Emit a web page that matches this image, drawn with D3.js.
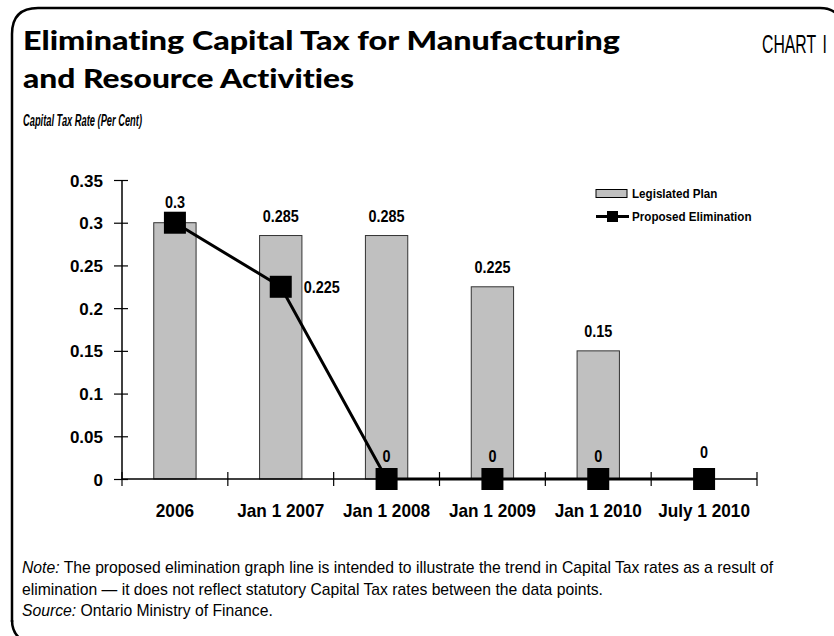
<!DOCTYPE html>
<html>
<head>
<meta charset="utf-8">
<script src="https://cdn.jsdelivr.net/npm/d3@7"></script>
<style>
  html, body { margin: 0; padding: 0; background: #fff; }
  svg { display: block; }
  text { font-variant-ligatures: none; }
</style>
</head>
<body>
<svg id="chart" width="834" height="636"></svg>
<script>
// ---- data ----
const categories = ["2006", "Jan 1 2007", "Jan 1 2008", "Jan 1 2009", "Jan 1 2010", "July 1 2010"];
const legislatedPlan = [0.3, 0.285, 0.285, 0.225, 0.15, 0];
const proposedElimination = [0.3, 0.225, 0, 0, 0, 0];
const yTicks = [0, 0.05, 0.1, 0.15, 0.2, 0.25, 0.3, 0.35];
const yTickLabels = ["0", "0.05", "0.1", "0.15", "0.2", "0.25", "0.3", "0.35"];
const seriesNames = ["Legislated Plan", "Proposed Elimination"];
const titleLines = ["Eliminating Capital Tax for Manufacturing", "and Resource Activities"];
const chartTag = "CHART I";
const subtitle = "Capital Tax Rate (Per Cent)";

const svg = d3.select("#chart");
const sans = "'Liberation Sans', Arial, sans-serif";

// squeeze text horizontally to mimic the narrow face of the original
function condense(sel, factor) {
  sel.each(function () {
    const w = this.getComputedTextLength();
    d3.select(this).attr("textLength", w * factor).attr("lengthAdjust", "spacingAndGlyphs");
  });
}
function fitWidth(sel, width) {
  sel.attr("textLength", width).attr("lengthAdjust", "spacingAndGlyphs");
}

// frame (left + top border with rounded corners)
svg.append("path")
  .attr("d", "M12,622 L12,34 Q12,8 38,8 L820,8 Q834,8 840,18")
  .attr("fill", "none").attr("stroke", "#000").attr("stroke-width", 2.5);
svg.append("path")
  .attr("d", "M12,620 Q12,636 26,642")
  .attr("fill", "none").attr("stroke", "#000").attr("stroke-width", 2.5);

// title
titleLines.forEach((t, i) => {
  const el = svg.append("text")
    .attr("x", 23).attr("y", 50 + i * 37.5)
    .attr("font-family", "Lato, 'Open Sans', sans-serif")
    .attr("font-weight", 900).attr("font-size", 27).attr("fill", "#000")
    .text(t);
  fitWidth(el, i === 0 ? 597 : 331);
});

// "CHART I" tag in a condensed look (scaled group so its box stays inside)
const tagG = svg.append("g");
const tag = tagG.append("text").attr("x", 0).attr("y", 0).attr("text-anchor", "end")
  .attr("font-family", sans).attr("font-size", 26).attr("fill", "#000")
  .attr("word-spacing", 4)
  .text(chartTag);
const tagW = tag.node().getComputedTextLength();
tagG.attr("transform", `translate(827,53) scale(${65 / tagW},1)`);

const sub = svg.append("text").attr("x", 23).attr("y", 126)
  .attr("font-family", sans).attr("font-weight", "bold").attr("font-style", "italic")
  .attr("font-size", 16).text(subtitle);
fitWidth(sub, 119);

// scales
const x = d3.scaleBand().domain(categories).range([122, 757]).padding(0);
const y = d3.scaleLinear().domain([0, 0.35]).range([479, 180]);
const bw = x.bandwidth() * 0.4;
const cx = d => x(d) + x.bandwidth() / 2;

// y axis
const yAxis = svg.append("g").attr("transform", "translate(122,0)")
  .call(d3.axisLeft(y).tickValues(yTicks).tickFormat((d, i) => yTickLabels[i]).tickSize(8).tickPadding(11));
yAxis.select(".domain").attr("stroke-width", 1.5).attr("d", "M0,180V479");
yAxis.selectAll(".tick line").attr("x1", -8).attr("x2", 6).attr("stroke-width", 1.2);
yAxis.selectAll(".tick text").attr("font-family", sans).attr("font-weight", "bold")
  .attr("font-size", 17).attr("fill", "#000").attr("dy", "0.36em");

// bars
svg.append("g").selectAll("rect").data(categories).join("rect")
  .attr("x", d => x(d) + (x.bandwidth() - bw) / 2)
  .attr("y", (d, i) => y(legislatedPlan[i]))
  .attr("width", bw)
  .attr("height", (d, i) => y(0) - y(legislatedPlan[i]))
  .attr("fill", "#c0c0c0").attr("stroke", "#333").attr("stroke-width", 1);

// x axis
const xAxis = svg.append("g").attr("transform", "translate(0,479)");
xAxis.append("line").attr("x1", 122).attr("x2", 757).attr("stroke", "#000").attr("stroke-width", 1.5);
const boundaries = categories.map(c => x(c)).concat([x.range()[1]]);
xAxis.selectAll("line.tick").data(boundaries).join("line").attr("class", "tick")
  .attr("x1", d => d).attr("x2", d => d).attr("y1", -7).attr("y2", 7)
  .attr("stroke", "#000").attr("stroke-width", 1.2);
const xl = svg.append("g").selectAll("text").data(categories).join("text")
  .attr("x", d => cx(d)).attr("y", 517)
  .attr("text-anchor", "middle").attr("font-family", sans).attr("font-weight", "bold")
  .attr("font-size", 18.5).text(d => d);
condense(xl, 0.93);

// line
const line = d3.line().x((d, i) => cx(categories[i])).y(d => y(d));
svg.append("path").datum(proposedElimination).attr("d", line)
  .attr("fill", "none").attr("stroke", "#000").attr("stroke-width", 3);
svg.append("g").selectAll("rect").data(proposedElimination).join("rect")
  .attr("x", (d, i) => cx(categories[i]) - 11).attr("y", d => y(d) - 11)
  .attr("width", 22).attr("height", 22).attr("fill", "#000");

// data labels
const lbl = svg.append("g").attr("font-family", sans).attr("font-weight", "bold")
  .attr("font-size", 16).attr("fill", "#000");
legislatedPlan.forEach((v, i) => {
  if (v === proposedElimination[i]) return;
  lbl.append("text").attr("x", cx(categories[i])).attr("y", y(v) - 14)
    .attr("text-anchor", "middle").text(String(v));
});
proposedElimination.forEach((v, i) => {
  const t = lbl.append("text");
  if (i === 1) {
    t.attr("x", cx(categories[i]) + 23).attr("y", y(v) + 6).attr("text-anchor", "start");
  } else {
    t.attr("x", cx(categories[i])).attr("y", y(v) - (i === 0 ? 15 : (i === 5 ? 21 : 17))).attr("text-anchor", "middle");
  }
  t.text(String(v));
});
condense(lbl.selectAll("text"), 0.9);

// legend
const lg = svg.append("g").attr("font-family", sans).attr("font-weight", "bold").attr("font-size", 12.5);
lg.append("rect").attr("x", 596).attr("y", 189.5).attr("width", 31).attr("height", 8)
  .attr("fill", "#c0c0c0").attr("stroke", "#000").attr("stroke-width", 1);
lg.append("text").attr("x", 632).attr("y", 198).text(seriesNames[0]);
lg.append("line").attr("x1", 596).attr("x2", 629).attr("y1", 216.5).attr("y2", 216.5)
  .attr("stroke", "#000").attr("stroke-width", 3);
lg.append("rect").attr("x", 607).attr("y", 211).attr("width", 11).attr("height", 11).attr("fill", "#000");
lg.append("text").attr("x", 632).attr("y", 221).text(seriesNames[1]);
condense(lg.selectAll("text"), 0.93);

// notes
const notes = svg.append("g").attr("font-family", sans).attr("font-size", 17).attr("fill", "#000");
const n1 = notes.append("text").attr("x", 22).attr("y", 573);
n1.append("tspan").attr("font-style", "italic").text("Note:");
n1.append("tspan").text(" The proposed elimination graph line is intended to illustrate the trend in Capital Tax rates as a result of");
const n2 = notes.append("text").attr("x", 22).attr("y", 594.5)
  .text("elimination \u2014 it does not reflect statutory Capital Tax rates between the data points.");
const n3 = notes.append("text").attr("x", 22).attr("y", 616);
n3.append("tspan").attr("font-style", "italic").text("Source:");
n3.append("tspan").text(" Ontario Ministry of Finance.");
[n1, n2, n3].forEach(t => condense(t, 0.925));
</script>
</body>
</html>
